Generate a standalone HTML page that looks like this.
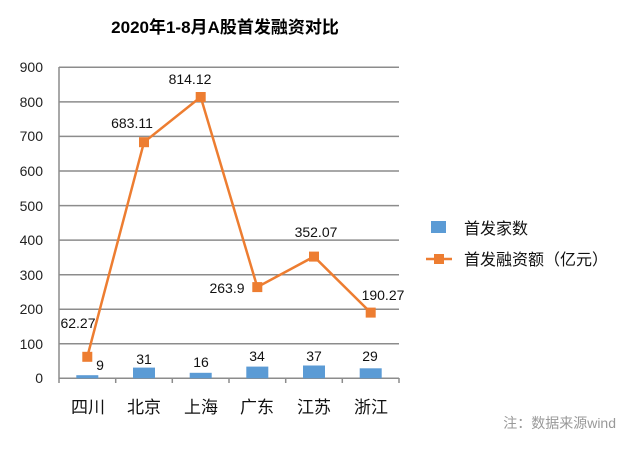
<!DOCTYPE html>
<html><head><meta charset="utf-8"><style>
body{margin:0;background:#fff}
svg text{font-family:"Liberation Sans","Noto Sans CJK SC",sans-serif}
</style></head><body>
<svg width="640" height="458" xmlns="http://www.w3.org/2000/svg">
<rect width="640" height="458" fill="#fff"/>
<text x="225" y="33" font-size="17" font-weight="bold" text-anchor="middle" fill="#000">2020年1-8月A股首发融资对比</text>
<g stroke="#8c8c8c" stroke-width="1.5">
<line x1="59" x2="399" y1="67.3" y2="67.3"/>
<line x1="59" x2="399" y1="101.9" y2="101.9"/>
<line x1="59" x2="399" y1="136.4" y2="136.4"/>
<line x1="59" x2="399" y1="171" y2="171"/>
<line x1="59" x2="399" y1="205.6" y2="205.6"/>
<line x1="59" x2="399" y1="240.1" y2="240.1"/>
<line x1="59" x2="399" y1="274.7" y2="274.7"/>
<line x1="59" x2="399" y1="309.2" y2="309.2"/>
<line x1="59" x2="399" y1="343.8" y2="343.8"/>
<line x1="59" x2="399" y1="378.3" y2="378.3"/>
<line x1="59" x2="59" y1="67" y2="383"/>
<line x1="115.7" x2="115.7" y1="378" y2="383"/>
<line x1="172.3" x2="172.3" y1="378" y2="383"/>
<line x1="229" x2="229" y1="378" y2="383"/>
<line x1="285.7" x2="285.7" y1="378" y2="383"/>
<line x1="342.3" x2="342.3" y1="378" y2="383"/>
<line x1="399" x2="399" y1="378" y2="383"/>
</g>
<g font-size="14" fill="#222" text-anchor="end">
<text x="43" y="72">900</text><text x="43" y="107">800</text><text x="43" y="141">700</text>
<text x="43" y="176">600</text><text x="43" y="211">500</text><text x="43" y="245">400</text>
<text x="43" y="280">300</text><text x="43" y="314">200</text><text x="43" y="349">100</text>
<text x="43" y="383">0</text>
</g>
<g fill="#5b9bd5">
<rect x="76.3" y="375.2" width="22" height="3.1"/>
<rect x="133" y="367.6" width="22" height="10.7"/>
<rect x="189.7" y="372.8" width="22" height="5.5"/>
<rect x="246.3" y="366.6" width="22" height="11.7"/>
<rect x="303" y="365.5" width="22" height="12.8"/>
<rect x="359.7" y="368.3" width="22" height="10"/>
</g>
<polyline fill="none" stroke="#ed7d31" stroke-width="2.5" points="87.3,356.8 144,142.2 200.7,97 257.3,287.1 314,256.6 370.7,312.6"/>
<g fill="#ed7d31">
<rect x="82.3" y="351.8" width="10" height="10"/>
<rect x="139" y="137.2" width="10" height="10"/>
<rect x="195.7" y="92" width="10" height="10"/>
<rect x="252.3" y="282.1" width="10" height="10"/>
<rect x="309" y="251.6" width="10" height="10"/>
<rect x="365.7" y="307.6" width="10" height="10"/>
</g>
<g font-size="14" fill="#111" text-anchor="middle">
<text x="78" y="328">62.27</text>
<text x="132" y="128">683.11</text>
<text x="190" y="84">814.12</text>
<text x="227" y="293">263.9</text>
<text x="316" y="237">352.07</text>
<text x="383" y="300">190.27</text>
<text x="100" y="370">9</text>
<text x="144" y="364">31</text>
<text x="201" y="367">16</text>
<text x="257" y="361">34</text>
<text x="314" y="361">37</text>
<text x="370" y="361">29</text>
</g>
<g font-size="17" fill="#111" text-anchor="middle">
<text x="88" y="413">四川</text><text x="144" y="413">北京</text><text x="201" y="413">上海</text>
<text x="257" y="413">广东</text><text x="314" y="413">江苏</text><text x="371" y="413">浙江</text>
</g>
<rect x="431" y="221" width="15" height="12" fill="#5b9bd5"/>
<text x="464" y="234" font-size="16" fill="#111">首发家数</text>
<line x1="426" x2="452" y1="259" y2="259" stroke="#ed7d31" stroke-width="2.5"/>
<rect x="434" y="254" width="10" height="10" fill="#ed7d31"/>
<text x="464" y="265" font-size="16" fill="#111">首发融资额（亿元）</text>
<text x="616" y="428" font-size="14" fill="#999" text-anchor="end">注：数据来源wind</text>
</svg>
</body></html>
